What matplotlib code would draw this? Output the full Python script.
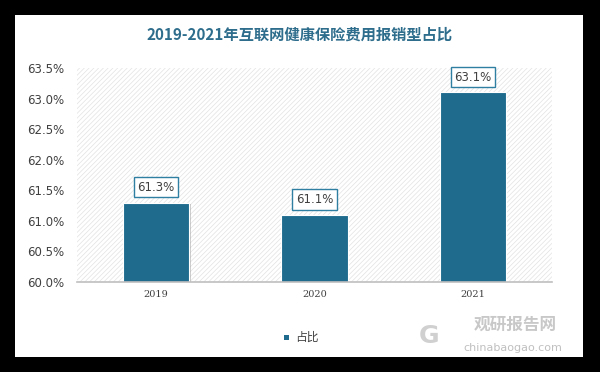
import numpy as np
import matplotlib
matplotlib.use('Agg')
import matplotlib.pyplot as plt
from matplotlib.patches import Rectangle
from matplotlib.ticker import FuncFormatter
import matplotlib.patheffects as pe

plt.rcParams['font.family'] = ['Noto Sans CJK SC', 'DejaVu Sans']
plt.rcParams['hatch.color'] = '#e2e2e2'
plt.rcParams['hatch.linewidth'] = 0.5

# data
years = ['2019', '2020', '2021']
share = [61.3, 61.1, 63.1]
labels = ['61.3%', '61.1%', '63.1%']
title = '2019-2021年互联网健康保险费用报销型占比'
bar_color = '#1f6b8e'

fig = plt.figure(figsize=(6, 3.72), dpi=100, facecolor='black')
# white panel inside black frame
fig.patches.append(Rectangle((15 / 600, 15 / 372), 568 / 600, 342 / 372,
                             transform=fig.transFigure, facecolor='white',
                             edgecolor='none', zorder=-10))

ax = fig.add_axes([77 / 600, 90 / 372, 475 / 600, 214 / 372])
ax.set_zorder(2)
ax.set_facecolor('white')
# hatched background
ax.add_patch(Rectangle((0, 0), 1, 1, transform=ax.transAxes, facecolor='white',
                       hatch='///////', edgecolor='#e2e2e2', linewidth=0, zorder=0))

x = np.arange(len(years))
bars = ax.bar(x, share, width=0.42, color=bar_color, zorder=3,
              edgecolor='white', linewidth=0.8)
for b in bars:
    b.set_path_effects([pe.SimplePatchShadow(offset=(1, -1), shadow_rgbFace='#9a9a9a', alpha=0.5),
                        pe.Normal()])

for xi, v, lab in zip(x, share, labels):
    ax.annotate(lab, (xi, v), xytext=(0, 11), textcoords='offset points',
                ha='center', va='center', fontsize=8.5, color='#404040', zorder=5,
                family=['DejaVu Sans'],
                bbox=dict(boxstyle='square,pad=0.3', facecolor='white',
                          edgecolor='#2f7fa2', linewidth=1.0))

ax.set_xlim(-0.5, 2.5)
ax.set_ylim(60, 63.5)
ax.set_yticks(np.arange(60, 63.51, 0.5))
ax.yaxis.set_major_formatter(FuncFormatter(lambda v, p: '%.1f%%' % v))
ax.set_xticks(x)
ax.set_xticklabels(years, fontsize=7, color='#404040', family=['DejaVu Serif'])
for t in ax.get_yticklabels():
    t.set_fontsize(8.5)
    t.set_color('#404040')
    t.set_family(['DejaVu Sans'])
ax.tick_params(axis='both', length=0)
ax.tick_params(axis='y', pad=9)
ax.tick_params(axis='x', pad=6)
for s in ['top', 'right', 'left']:
    ax.spines[s].set_visible(False)
ax.spines['bottom'].set_color('#bfbfbf')
ax.spines['bottom'].set_linewidth(1.2)
ax.spines['bottom'].set_zorder(4)

fig.text(0.5, (372 - 35) / 372, title, ha='center', va='center',
         fontsize=11, color='#2e6d8c', fontweight='bold')

# legend
fig.patches.append(Rectangle((284 / 600, (372 - 340) / 372), 5 / 600, 5 / 372,
                             transform=fig.transFigure, facecolor=bar_color,
                             edgecolor='none', zorder=2))
fig.text(295 / 600, (372 - 337) / 372, '占比', ha='left', va='center',
         fontsize=8.5, color='#404040')

# watermark
fig.text(515 / 600, (372 - 325) / 372, '观研报告网', ha='center', va='center',
         fontsize=12, color='#c8c8c8', fontweight='bold')
fig.text(513 / 600, (372 - 348) / 372, 'chinabaogao.com', ha='center', va='center',
         fontsize=8, color='#c0c0c0', family=['DejaVu Sans'])
fig.text(429 / 600, (372 - 336) / 372, 'G', ha='center', va='center',
         fontsize=18, color='#d0d0d0', fontweight='bold', family=['DejaVu Sans'])

fig.savefig('out.png', dpi=100, facecolor='black')
